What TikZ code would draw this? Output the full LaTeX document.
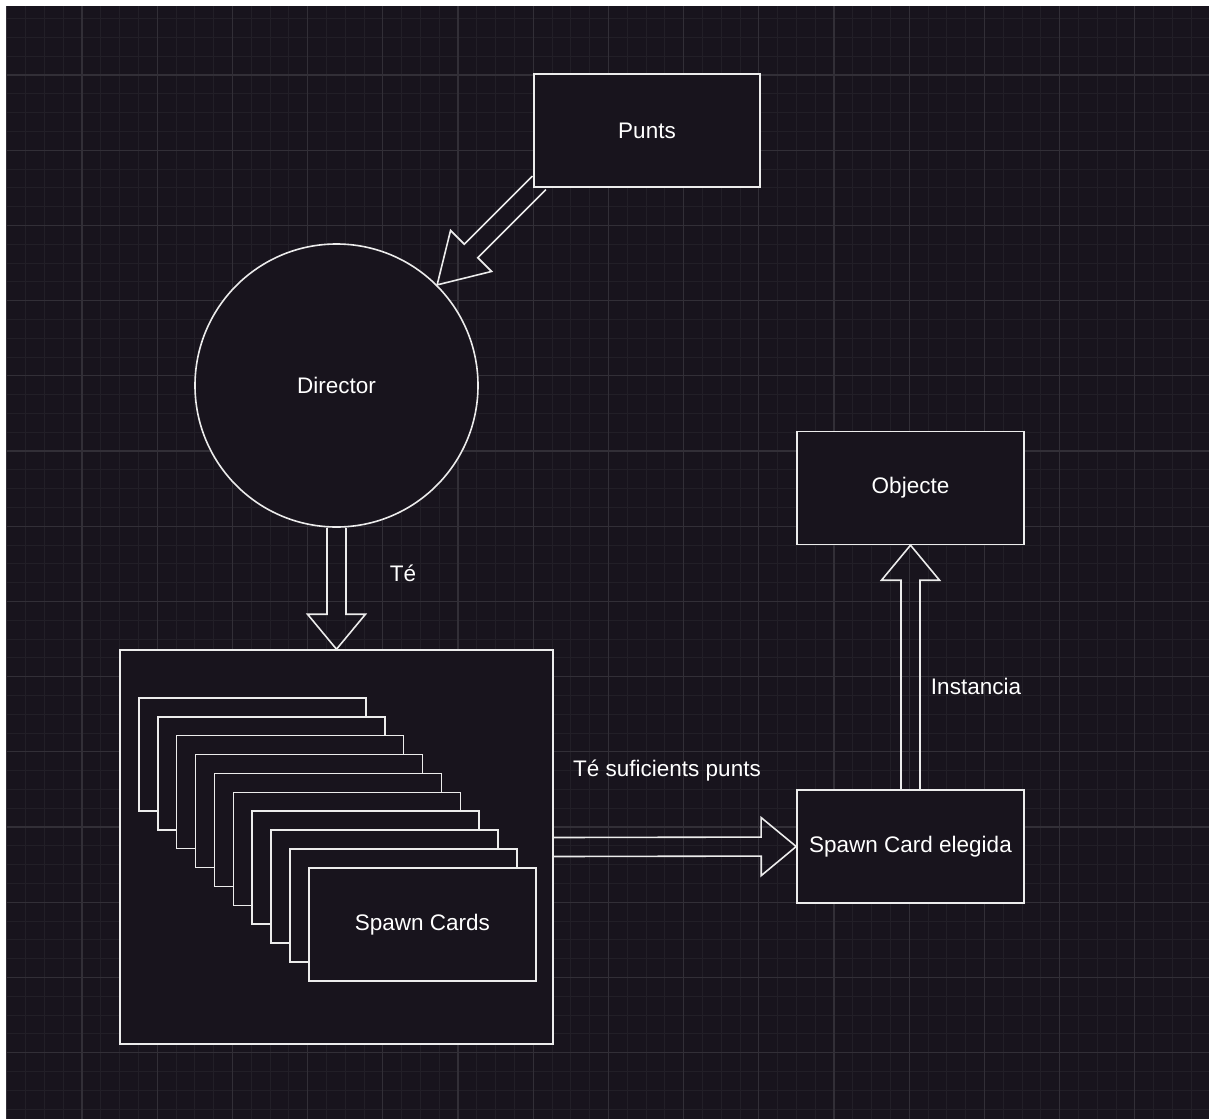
\documentclass[tikz,border=0pt]{standalone}
\usepackage{fontspec}
\setmainfont{Liberation Sans}
\usetikzlibrary{positioning, calc}

\definecolor{canvas}{RGB}{24,20,29}
\definecolor{gridminor}{RGB}{34,31,39}
\definecolor{gridmajor}{RGB}{50,47,55}
\definecolor{edge}{RGB}{236,236,236}

% hollow block arrow from #2 to the tip #3, head length #1
\newcommand\flexarrow[3][35pt]{%
  \coordinate (fa-h) at ($(#3)!#1!(#2)$);
  \draw[flex] ($(#2)!9.5pt!90:(#3)$) -- ($(fa-h)!9.5pt!-90:(#2)$)
    -- ($(fa-h)!29pt!-90:(#2)$) -- (#3) -- ($(fa-h)!29pt!90:(#2)$)
    -- ($(fa-h)!9.5pt!90:(#2)$) -- ($(#2)!9.5pt!-90:(#3)$);
}

\begin{document}
\begin{tikzpicture}[
      x=1pt, y=-1pt,
      font=\fontsize{22.5}{27}\selectfont,
      box/.style={rectangle, draw=edge, fill=canvas, line width=1.6pt, minimum width=226pt, minimum height=113pt, inner sep=0pt, text=white},
      card/.style={rectangle, draw=edge, fill=canvas, line width=1.6pt, minimum width=227pt, minimum height=113pt, inner sep=0pt, text=white, anchor=north west},
      circ/.style={circle, draw=edge, fill=canvas, line width=1.6pt, minimum size=283pt, inner sep=0pt, text=white},
      lbl/.style={text=white, inner sep=1pt},
      flex/.style={draw=edge, line width=1.6pt, line join=miter},
      minorgrid/.style={draw=gridminor, line width=0.9pt},
      majorgrid/.style={draw=gridmajor, line width=1.3pt}
      ]

      % Background and grid
      \useasboundingbox (0,0) rectangle (1209,1119);
      \fill[white] (0,0) rectangle (1209,1119);
      \fill[canvas] (6,6) rectangle (1209,1119);
      \foreach \i in {0,...,64} \draw[minorgrid] (6.8+18.8*\i,6) -- ++(0,1113);
      \foreach \i in {1,...,60} \draw[minorgrid] (6,-0.2+18.8*\i) -- ++(1203,0);
      \foreach \i in {0,...,16} \draw[majorgrid] (6.8+75.2*\i,6) -- ++(0,1113);
      \foreach \i in {1,...,15} \draw[majorgrid] (6,-0.2+75.2*\i) -- ++(1203,0);

      % Nodes
      \node[box] (punts) at (647,130.5) {Punts};
      \node[circ] (director) at (336.5,385.5) {Director};
      \node[box, minimum width=433pt, minimum height=394pt] (deck) at (336.5,847) {};
      \foreach \i in {0,...,9}
        \node[card] (card\i) at (138+18.9*\i,697+18.9*\i) {};
      \node[text=white] (cardtext) at (card9.center) {Spawn Cards};
      \node[box, minimum width=227pt] (elegida) at (910.5,846.5) {Spawn Card elegida};
      \node[box, minimum width=227pt, above=244pt of elegida] (objecte) {Objecte};

      % Labels
      \node[lbl] (te) at (403,573) {Té};
      \node[lbl] (suficients) at (667,771) {Té suficients punts};
      \node[lbl] (instancia) at (976,686) {Instancia};

      % Arrows
      \coordinate (puntsout) at ($(punts.south west)+(6,-5)$);
      \flexarrow[48pt]{puntsout}{director.45}
      \flexarrow{director.south}{deck.north}
      \flexarrow{deck.east}{elegida.west}
      \flexarrow{elegida.north}{objecte.south}

\end{tikzpicture}
\end{document}
